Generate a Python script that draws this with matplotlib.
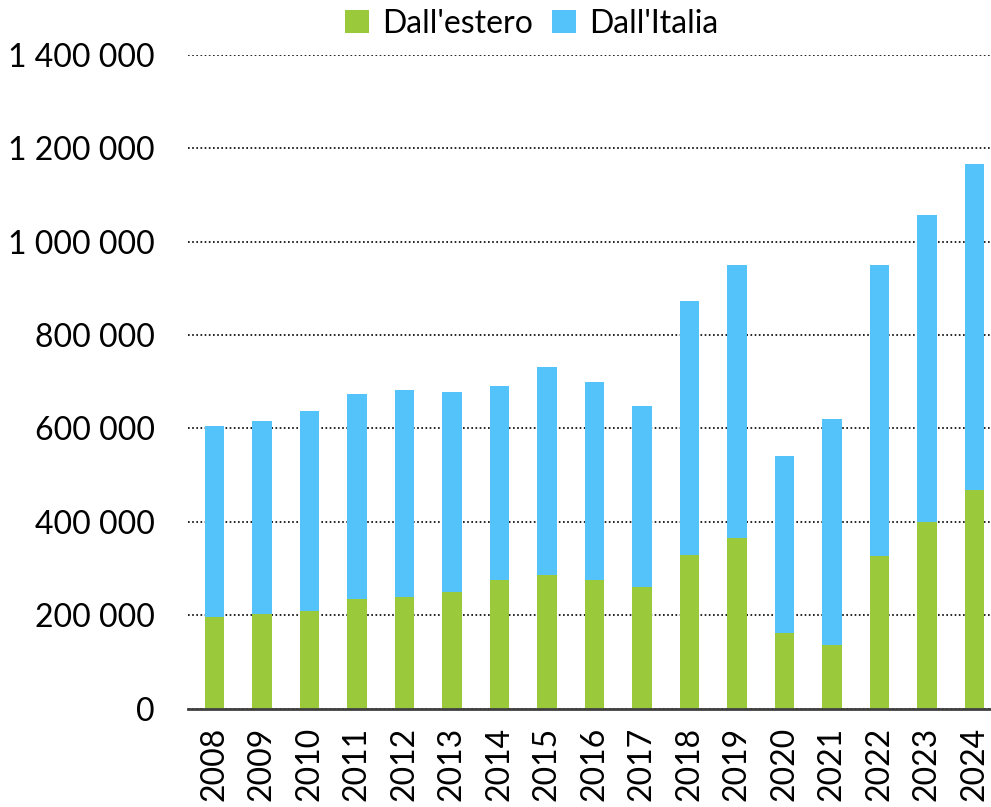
import matplotlib.pyplot as plt
import numpy as np
from matplotlib.ticker import FuncFormatter

plt.rcParams['font.family'] = ['Lato', 'DejaVu Sans']

# Data
anni = ['2008', '2009', '2010', '2011', '2012', '2013', '2014', '2015', '2016',
        '2017', '2018', '2019', '2020', '2021', '2022', '2023', '2024']
totale = [605000, 616000, 637000, 673000, 683000, 678000, 690000, 732000, 700000,
          648000, 873000, 951000, 541000, 620000, 951000, 1056000, 1166000]
dall_estero = [197000, 203000, 208000, 234000, 239000, 249000, 276000, 286000, 276000,
               260000, 328000, 365000, 162000, 137000, 326000, 399000, 468000]
dall_italia = [t - e for t, e in zip(totale, dall_estero)]

verde = '#9aca3c'
azzurro = '#53c3f9'

fig = plt.figure(figsize=(9.91, 8.07), dpi=100)
ax = fig.add_axes([0.19, 0.122, 0.81, 0.81])

x = np.arange(len(anni))
w = 0.41
ax.bar(x, dall_estero, w, color=verde, label="Dall'estero", zorder=3)
ax.bar(x, dall_italia, w, bottom=dall_estero, color=azzurro, label="Dall'Italia", zorder=3)

ax.set_ylim(0, 1400000)
ax.set_xlim(-0.55, 16.35)
ax.set_yticks(np.arange(0, 1400001, 200000))
ax.yaxis.set_major_formatter(FuncFormatter(lambda v, p: f'{int(v):,}'.replace(',', ' ')))
ax.set_xticks(x)
ax.set_xticklabels(anni, rotation=90)
ax.tick_params(axis='both', length=0, labelsize=23)
ax.tick_params(axis='y', pad=24)
ax.tick_params(axis='x', pad=13)

ax.grid(axis='y', color='black', linestyle=(0, (1, 1.5)), linewidth=1.2, zorder=0)
for s in ['top', 'right', 'left']:
    ax.spines[s].set_visible(False)
ax.spines['bottom'].set_color('#404040')
ax.spines['bottom'].set_linewidth(2)
ax.spines['bottom'].set_zorder(4)

ax.legend(loc='lower center', bbox_to_anchor=(0.428, 1.005), ncol=2, frameon=False,
          fontsize=23, handlelength=0.75, handleheight=0.75, handletextpad=0.4,
          columnspacing=0.6, borderaxespad=0)

fig.savefig('out.png', dpi=100)
